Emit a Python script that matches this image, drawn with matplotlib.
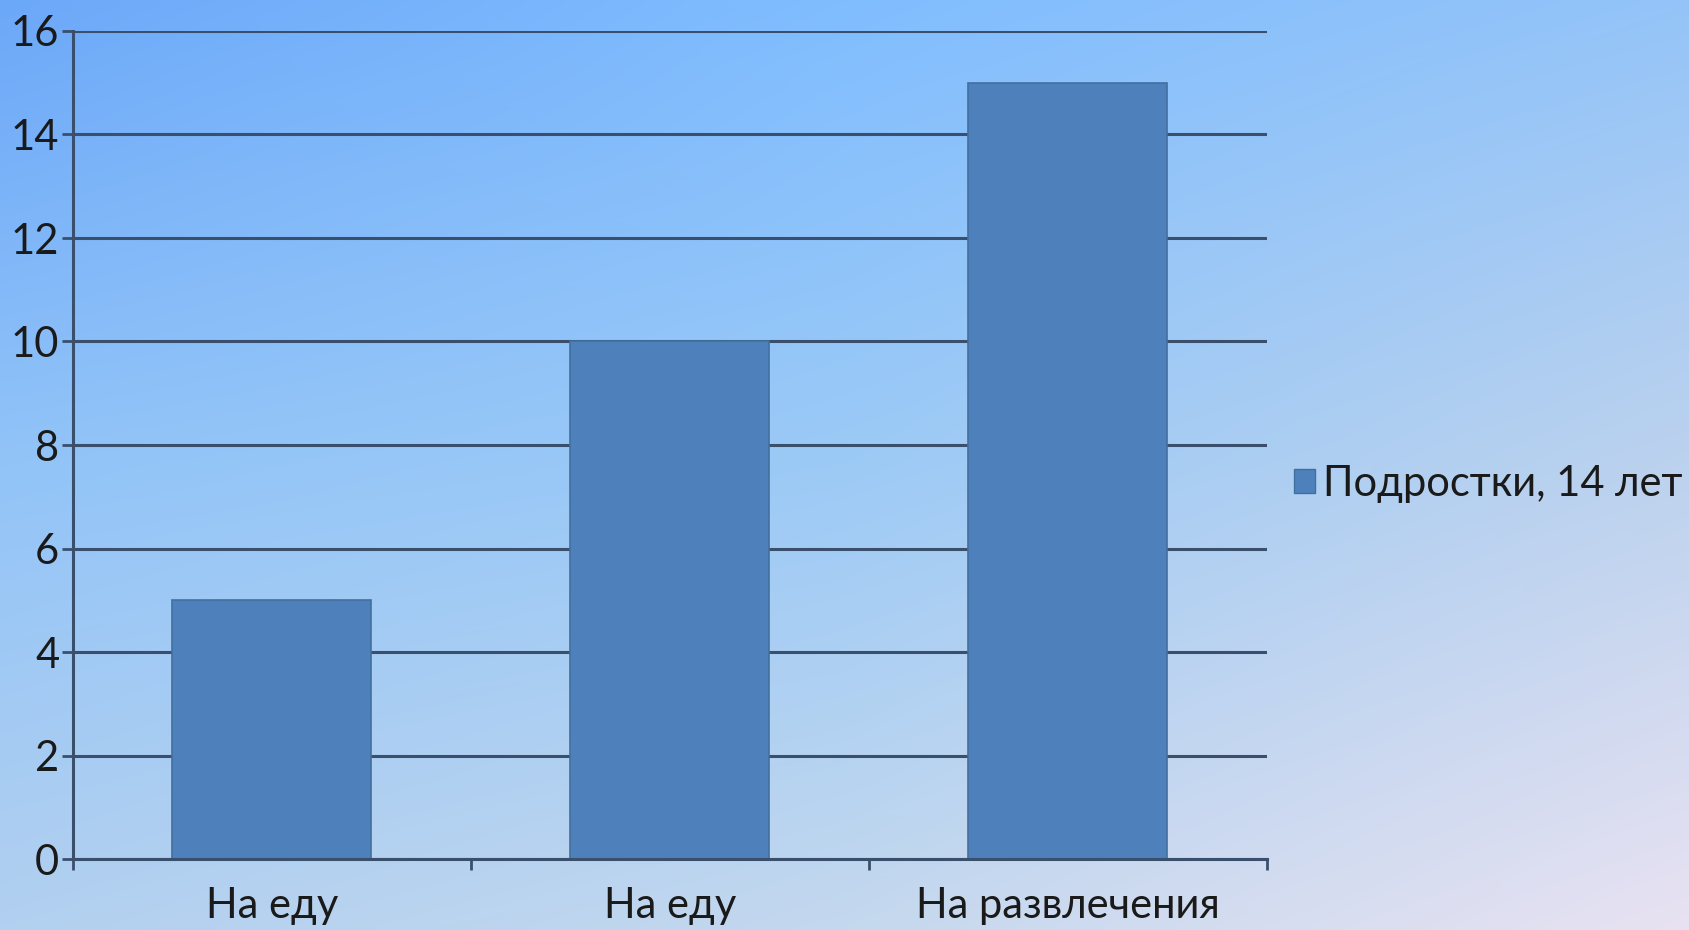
import matplotlib
matplotlib.use("Agg")
import matplotlib.pyplot as plt
import numpy as np
from matplotlib.patches import Patch

categories = ["На еду", "На еду", "На развлечения"]
values = [5, 10, 15]
series_name = "Подростки, 14 лет"
yticks = [0, 2, 4, 6, 8, 10, 12, 14, 16]

plt.rcParams["font.family"] = ["Lato", "DejaVu Sans"]

W, H, DPI = 1690, 930, 100
fig = plt.figure(figsize=(W / DPI, H / DPI), dpi=DPI)

# background gradient: blue at the top, lavender towards bottom-right
bg = fig.add_axes([0, 0, 1, 1], zorder=-10)
rows = np.array([
    [[0x6c, 0xa8, 0xf8], [0x80, 0xbd, 0xff], [0x94, 0xc4, 0xf8]],
    [[0x92, 0xc4, 0xf8], [0x9c, 0xca, 0xf6], [0xbc, 0xd2, 0xee]],
    [[0xb2, 0xd0, 0xf0], [0xc4, 0xd8, 0xee], [0xe8, 0xe2, 0xf2]],
]) / 255
stops = [0, 0.5, 1]
xs = np.linspace(0, 1, 200)
ys = np.linspace(0, 1, 120)
row_imgs = np.stack([
    np.stack([np.interp(xs, stops, rows[r, :, c]) for c in range(3)], axis=-1)
    for r in range(3)
])  # (3, nx, 3)
img = np.stack([
    np.stack([np.interp(ys, stops, row_imgs[:, i, c]) for i in range(len(xs))], axis=1)
    for c in range(3)
], axis=-1)
bg.imshow(img, aspect="auto", extent=[0, 1, 0, 1], origin="upper", interpolation="bilinear")
bg.axis("off")

ax = fig.add_axes([73 / W, 1 - 859 / H, (1267 - 73) / W, (859 - 31) / H])
ax.patch.set_alpha(0)

x = np.arange(len(categories))
grid_c = "#3a4f6c"
ax.set_ylim(0, 16)
ax.set_xlim(-0.5, len(categories) - 0.5)
ax.set_yticks(yticks)
ax.yaxis.grid(True, color=grid_c, lw=2.2, zorder=0)
ax.set_axisbelow(True)

ax.bar(x, values, width=0.5, color="#4e80bc", edgecolor="#41709f", lw=1.2, zorder=2)

for s in ["top", "right"]:
    ax.spines[s].set_visible(False)
for s in ["left", "bottom"]:
    ax.spines[s].set_color(grid_c)
    ax.spines[s].set_linewidth(2.2)

ax.set_xticks(np.arange(-0.5, len(categories)), [""] * (len(categories) + 1))
ax.set_xticks(x, categories, minor=True)
ax.tick_params(axis="x", which="major", length=8, width=2, color=grid_c)
ax.tick_params(axis="x", which="minor", length=0, pad=20, labelsize=30, labelcolor="#1a1a1a")
ax.tick_params(axis="y", length=8, width=2, color=grid_c, pad=2, labelsize=30, labelcolor="#1a1a1a")

handle = Patch(facecolor="#4e80bc", edgecolor="#41709f")
fig.legend([handle], [series_name], loc="center left",
           bbox_to_anchor=(1294 / W, 1 - 484 / H), frameon=False,
           fontsize=30, handlelength=0.5, handleheight=0.5,
           handletextpad=0.2, borderpad=0, borderaxespad=0,
           labelcolor="#1a1a1a")

fig.savefig("out.png", dpi=DPI)
